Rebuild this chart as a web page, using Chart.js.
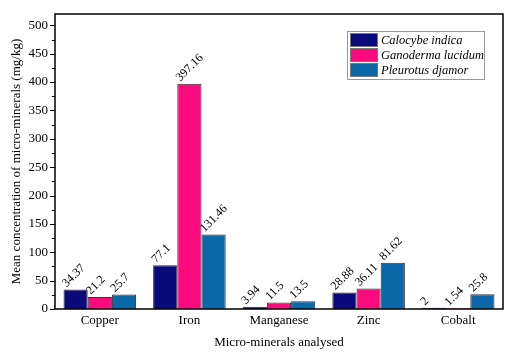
<!DOCTYPE html>
<html><head><meta charset="utf-8">
<script src="https://cdn.jsdelivr.net/npm/chart.js@4/dist/chart.umd.min.js"></script>
<style>html,body{margin:0;padding:0;background:#fff}#wrap{width:529px;height:354px}</style>
</head><body><div id="wrap"><canvas id="c" width="529" height="354"></canvas></div>
<script>
const categories = ["Copper", "Iron", "Manganese", "Zinc", "Cobalt"];
const calocybe = [34.37, 77.1, 3.94, 28.88, 2];
const ganoderma = [21.2, 397.16, 11.5, 36.11, 1.54];
const pleurotus = [25.7, 131.46, 13.5, 81.62, 25.8];
const seriesNames = ["Calocybe indica", "Ganoderma lucidum", "Pleurotus djamor"];
const seriesColors = ["#0a0a7c", "#fa0a7c", "#0a68a8"];
const yTicks = [0, 50, 100, 150, 200, 250, 300, 350, 400, 450, 500];

const FONT = '"Liberation Serif", Tinos, "Times New Roman", Times, serif';

const decor = {
  id: 'decor',
  afterDatasetsDraw(chart) {
    const ctx = chart.ctx, a = chart.chartArea;
    const y = chart.scales.y;
    ctx.save();
    ctx.strokeStyle = '#000'; ctx.lineWidth = 1.5;
    ctx.strokeRect(a.left, a.top, a.right - a.left, a.bottom - a.top);
    ctx.lineWidth = 1;
    for (let v = 0; v <= 500; v += 25) {
      const p = Math.round(y.getPixelForValue(v)) + 0.5;
      const len = (v % 50 === 0) ? 5 : 3;
      ctx.beginPath(); ctx.moveTo(a.left - len, p); ctx.lineTo(a.left, p); ctx.stroke();
    }
    ctx.fillStyle = '#000';
    ctx.font = "12px " + FONT;
    ctx.textAlign = 'left'; ctx.textBaseline = 'alphabetic';
    chart.data.datasets.forEach((ds, di) => {
      const meta = chart.getDatasetMeta(di);
      meta.data.forEach((bar, i) => {
        const txt = String(ds.data[i]);
        ctx.save();
        ctx.translate(bar.x - bar.width / 2 + 3, bar.y - 2);
        ctx.rotate(-45 * Math.PI / 180);
        ctx.fillText(txt, 0, 0);
        ctx.restore();
      });
    });
    const lx = 347, ly = 31, lw = 137, lh = 48;
    ctx.fillStyle = '#fff';
    ctx.fillRect(lx, ly, lw, lh);
    ctx.strokeStyle = '#999'; ctx.lineWidth = 1;
    ctx.strokeRect(lx + 0.5, ly + 0.5, lw, lh);
    ctx.font = "italic 12.5px " + FONT;
    ctx.textBaseline = 'middle';
    chart.data.datasets.forEach((ds, di) => {
      const ry = ly + 2 + di * 15;
      ctx.fillStyle = ds.backgroundColor;
      ctx.fillRect(lx + 3, ry, 28, 14);
      ctx.strokeStyle = '#777';
      ctx.strokeRect(lx + 3.5, ry + 0.5, 27, 13);
      ctx.fillStyle = '#000';
      ctx.fillText(ds.label, lx + 34, ry + 7.5);
    });
    ctx.restore();
  }
};

new Chart(document.getElementById('c'), {
  type: 'bar',
  data: {
    labels: categories,
    datasets: [
      { label: seriesNames[0], data: calocybe, backgroundColor: seriesColors[0] },
      { label: seriesNames[1], data: ganoderma, backgroundColor: seriesColors[1] },
      { label: seriesNames[2], data: pleurotus, backgroundColor: seriesColors[2] }
    ].map(d => Object.assign(d, { borderColor: '#333', borderWidth: 1, categoryPercentage: 0.81, barPercentage: 1.0 }))
  },
  options: {
    responsive: false,
    animation: false,
    devicePixelRatio: 1,
    layout: { padding: { left: 0, top: 14, right: 26, bottom: 0 } },
    plugins: { legend: { display: false }, tooltip: { enabled: false } },
    scales: {
      x: {
        grid: { display: false, drawTicks: false },
        border: { display: false },
        ticks: { color: '#000', font: { family: FONT, size: 13 }, padding: 4 },
        title: { display: true, text: 'Micro-minerals analysed', color: '#000', font: { family: FONT, size: 13 }, padding: { top: 8, bottom: 4 } },
        afterFit(s) { s.height = 45; }
      },
      y: {
        min: 0, max: 520,
        afterBuildTicks(s) { s.ticks = yTicks.map(v => ({ value: v })); },
        grid: { display: false },
        border: { display: false },
        ticks: { color: '#000', font: { family: FONT, size: 13 }, padding: -1 },
        title: { display: true, text: 'Mean concentration of micro-minerals (mg/kg)', color: '#000', font: { family: FONT, size: 13 }, padding: { top: 9, bottom: 2 } },
        afterFit(s) { s.width = 55; }
      }
    }
  },
  plugins: [decor]
});
</script>
</body></html>
